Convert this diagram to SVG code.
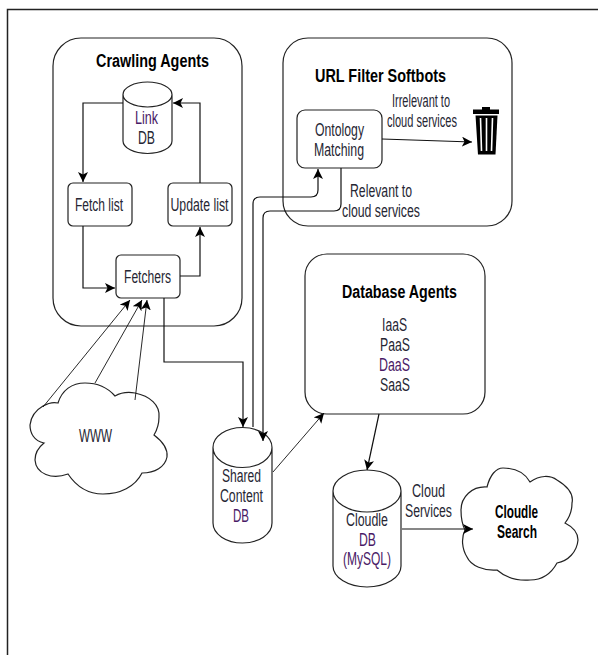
<svg xmlns="http://www.w3.org/2000/svg" width="598" height="655" viewBox="0 0 598 655">
<style>
text{font-family:"Liberation Sans",Arial,sans-serif;font-size:17.5px;fill:#262633}
.b{font-weight:bold;fill:#000;font-size:18px}
.p{fill:#4a1a66}
.s{fill:#fff;stroke:#222;stroke-width:1.200}
.c{fill:none;stroke:#111;stroke-width:1.200}
.t{stroke-width:.9}
</style>
<defs>
<marker id="a" markerUnits="userSpaceOnUse" markerWidth="12" markerHeight="12" refX="10" refY="5" orient="auto"><path d="M0,0L10,5L0,10L2.500,5Z" fill="#000"/></marker>
</defs>
<rect width="598" height="655" fill="#fff"/>
<path id="frame" d="M7.500,655V9.500H598" fill="none" stroke="#222" stroke-width="1.500"/>
<g id="crawling-agents"><rect class="s" x="53" y="38" width="189" height="288" rx="28"/><text class="b" x="96" y="67" textLength="113" lengthAdjust="spacingAndGlyphs">Crawling Agents</text></g>
<g id="url-filter"><rect class="s" x="283" y="38" width="229" height="188" rx="25"/><text class="b" x="315" y="82" textLength="131" lengthAdjust="spacingAndGlyphs">URL Filter Softbots</text></g>
<g id="database-agents"><rect class="s" x="305" y="254" width="180" height="160" rx="22"/><text class="b" x="342" y="298" textLength="115" lengthAdjust="spacingAndGlyphs">Database Agents</text>
<text x="382" y="331" textLength="25" lengthAdjust="spacingAndGlyphs">IaaS</text><text x="380" y="351" textLength="30" lengthAdjust="spacingAndGlyphs">PaaS</text><text class="p" x="379" y="371" textLength="31" lengthAdjust="spacingAndGlyphs">DaaS</text><text x="380" y="391" textLength="30" lengthAdjust="spacingAndGlyphs">SaaS</text></g>
<g id="link-db"><path class="s" d="M123,94.500V141A24.500,12.500 0 0 0 172,141V94.500A24.500,12.500 0 0 0 123,94.500A24.500,12.500 0 0 0 172,94.500"/><text class="p" x="135" y="124" textLength="23" lengthAdjust="spacingAndGlyphs">Link</text><text x="138" y="144" textLength="17" lengthAdjust="spacingAndGlyphs">DB</text></g>
<g id="fetch-list"><rect class="s" x="68" y="183" width="64" height="43" rx="5"/><text x="75" y="211" textLength="48" lengthAdjust="spacingAndGlyphs">Fetch list</text></g>
<g id="update-list"><rect class="s" x="168" y="183" width="64" height="43" rx="5"/><text x="170.500" y="211" textLength="58" lengthAdjust="spacingAndGlyphs">Update list</text></g>
<g id="fetchers"><rect class="s" x="116" y="255" width="64" height="43" rx="5"/><text x="124" y="283" textLength="47" lengthAdjust="spacingAndGlyphs">Fetchers</text></g>
<g id="ontology"><rect class="s" x="297" y="110" width="85" height="58" rx="8"/><text x="315" y="136" textLength="49" lengthAdjust="spacingAndGlyphs">Ontology</text><text x="314" y="156" textLength="50" lengthAdjust="spacingAndGlyphs">Matching</text></g>
<g id="trash"><rect x="473" y="109.500" width="26" height="4.500" fill="#000"/><rect x="482" y="107" width="8" height="3" fill="#000"/><path d="M475.500,115.500H497.500L495.500,154.500H478Z" fill="#000"/><path d="M480.500,118L481.500,151M486.500,118V151M492.500,118L491.500,151" stroke="#fff" stroke-width="1.600" fill="none"/></g>
<g id="www"><path class="s" d="M43,406C50,402 54,402 58,403C62,390 72,383 85,383C97,383 108,388 115,396C122,392 129,392 135,393C150,396 160,405 159,417C159,424 157,430 154,435C162,441 168,449 167,457C165,467 155,473 142,473C135,487 120,494 103,494C88,494 76,486 68,474C52,480 36,474 35,460C35,452 39,447 44,443C34,441 30,433 30,425C31,416 36,410 43,406Z"/><text x="79" y="442" textLength="33" lengthAdjust="spacingAndGlyphs">WWW</text></g>
<g id="shared-db"><path class="s" d="M213,447.500V523A29.500,20 0 0 0 272,523V447.500A29.500,20 0 0 0 213,447.500A29.500,20 0 0 0 272,447.500"/><text x="222" y="482" textLength="39" lengthAdjust="spacingAndGlyphs">Shared</text><text x="220" y="502" textLength="43" lengthAdjust="spacingAndGlyphs">Content</text><text class="p" x="233" y="522" textLength="16" lengthAdjust="spacingAndGlyphs">DB</text></g>
<g id="cloudle-db"><path class="s" d="M333,491V566A34,21 0 0 0 401,566V491A34,21 0 0 0 333,491A34,21 0 0 0 401,491"/><text x="346" y="526" textLength="42" lengthAdjust="spacingAndGlyphs">Cloudle</text><text class="p" x="359" y="546" textLength="17" lengthAdjust="spacingAndGlyphs">DB</text><text class="p" x="343" y="565" textLength="48" lengthAdjust="spacingAndGlyphs">(MySQL)</text></g>
<g id="cloudle-search"><path class="s" d="M461,510C461,497 472,486 487,487C490,475 496,468 503,468C515,468 525,473 530,482C540,475 550,475 557,480C567,486 574,494 572,503C572,511 569,518 565,523C573,527 578,533 578,540C577,552 568,561 557,563C551,574 541,580 530,580C517,581 505,577 497,570C484,571 471,566 467,557C462,549 461,538 465,530C462,524 461,517 461,510Z"/><text class="b" x="495" y="518" textLength="43" lengthAdjust="spacingAndGlyphs">Cloudle</text><text class="b" x="497" y="538" textLength="40" lengthAdjust="spacingAndGlyphs">Search</text></g>
<g id="connectors">
<path class="c" marker-end="url(#a)" d="M123,103H83V182"/>
<path class="c" marker-end="url(#a)" d="M200,183V103H173"/>
<path class="c" marker-end="url(#a)" d="M83,226V288H115"/>
<path class="c" marker-end="url(#a)" d="M180,276H200V227"/>
<path class="c t" marker-end="url(#a)" d="M43,407L130,300"/>
<path class="c t" marker-end="url(#a)" d="M95,383L142,300"/>
<path class="c t" marker-end="url(#a)" d="M135,400L147,300"/>
<path class="c" marker-end="url(#a)" d="M164,298V362H243V427"/>
<path class="c" marker-end="url(#a)" d="M253,427V204Q253,197 260,197H311Q318,197 318,190V169"/>
<path class="c" marker-end="url(#a)" d="M341,168V204Q341,211 334,211H270Q263,211 263,218V441"/>
<path class="c" marker-end="url(#a)" d="M382,139L472,142"/>
<path class="c t" marker-end="url(#a)" d="M273,472L324,413"/>
<path class="c" marker-end="url(#a)" d="M379,414L367,470"/>
<path class="c" marker-end="url(#a)" d="M402,529H473"/>
<text x="392" y="107" textLength="58" lengthAdjust="spacingAndGlyphs">Irrelevant to</text>
<text x="387" y="127" textLength="70" lengthAdjust="spacingAndGlyphs">cloud services</text>
<text x="350" y="197" textLength="62" lengthAdjust="spacingAndGlyphs">Relevant to</text>
<text x="342" y="217" textLength="78" lengthAdjust="spacingAndGlyphs">cloud services</text>
<text x="412" y="497" textLength="33" lengthAdjust="spacingAndGlyphs">Cloud</text>
<text x="405" y="517" textLength="47" lengthAdjust="spacingAndGlyphs">Services</text>
</g>
</svg>
